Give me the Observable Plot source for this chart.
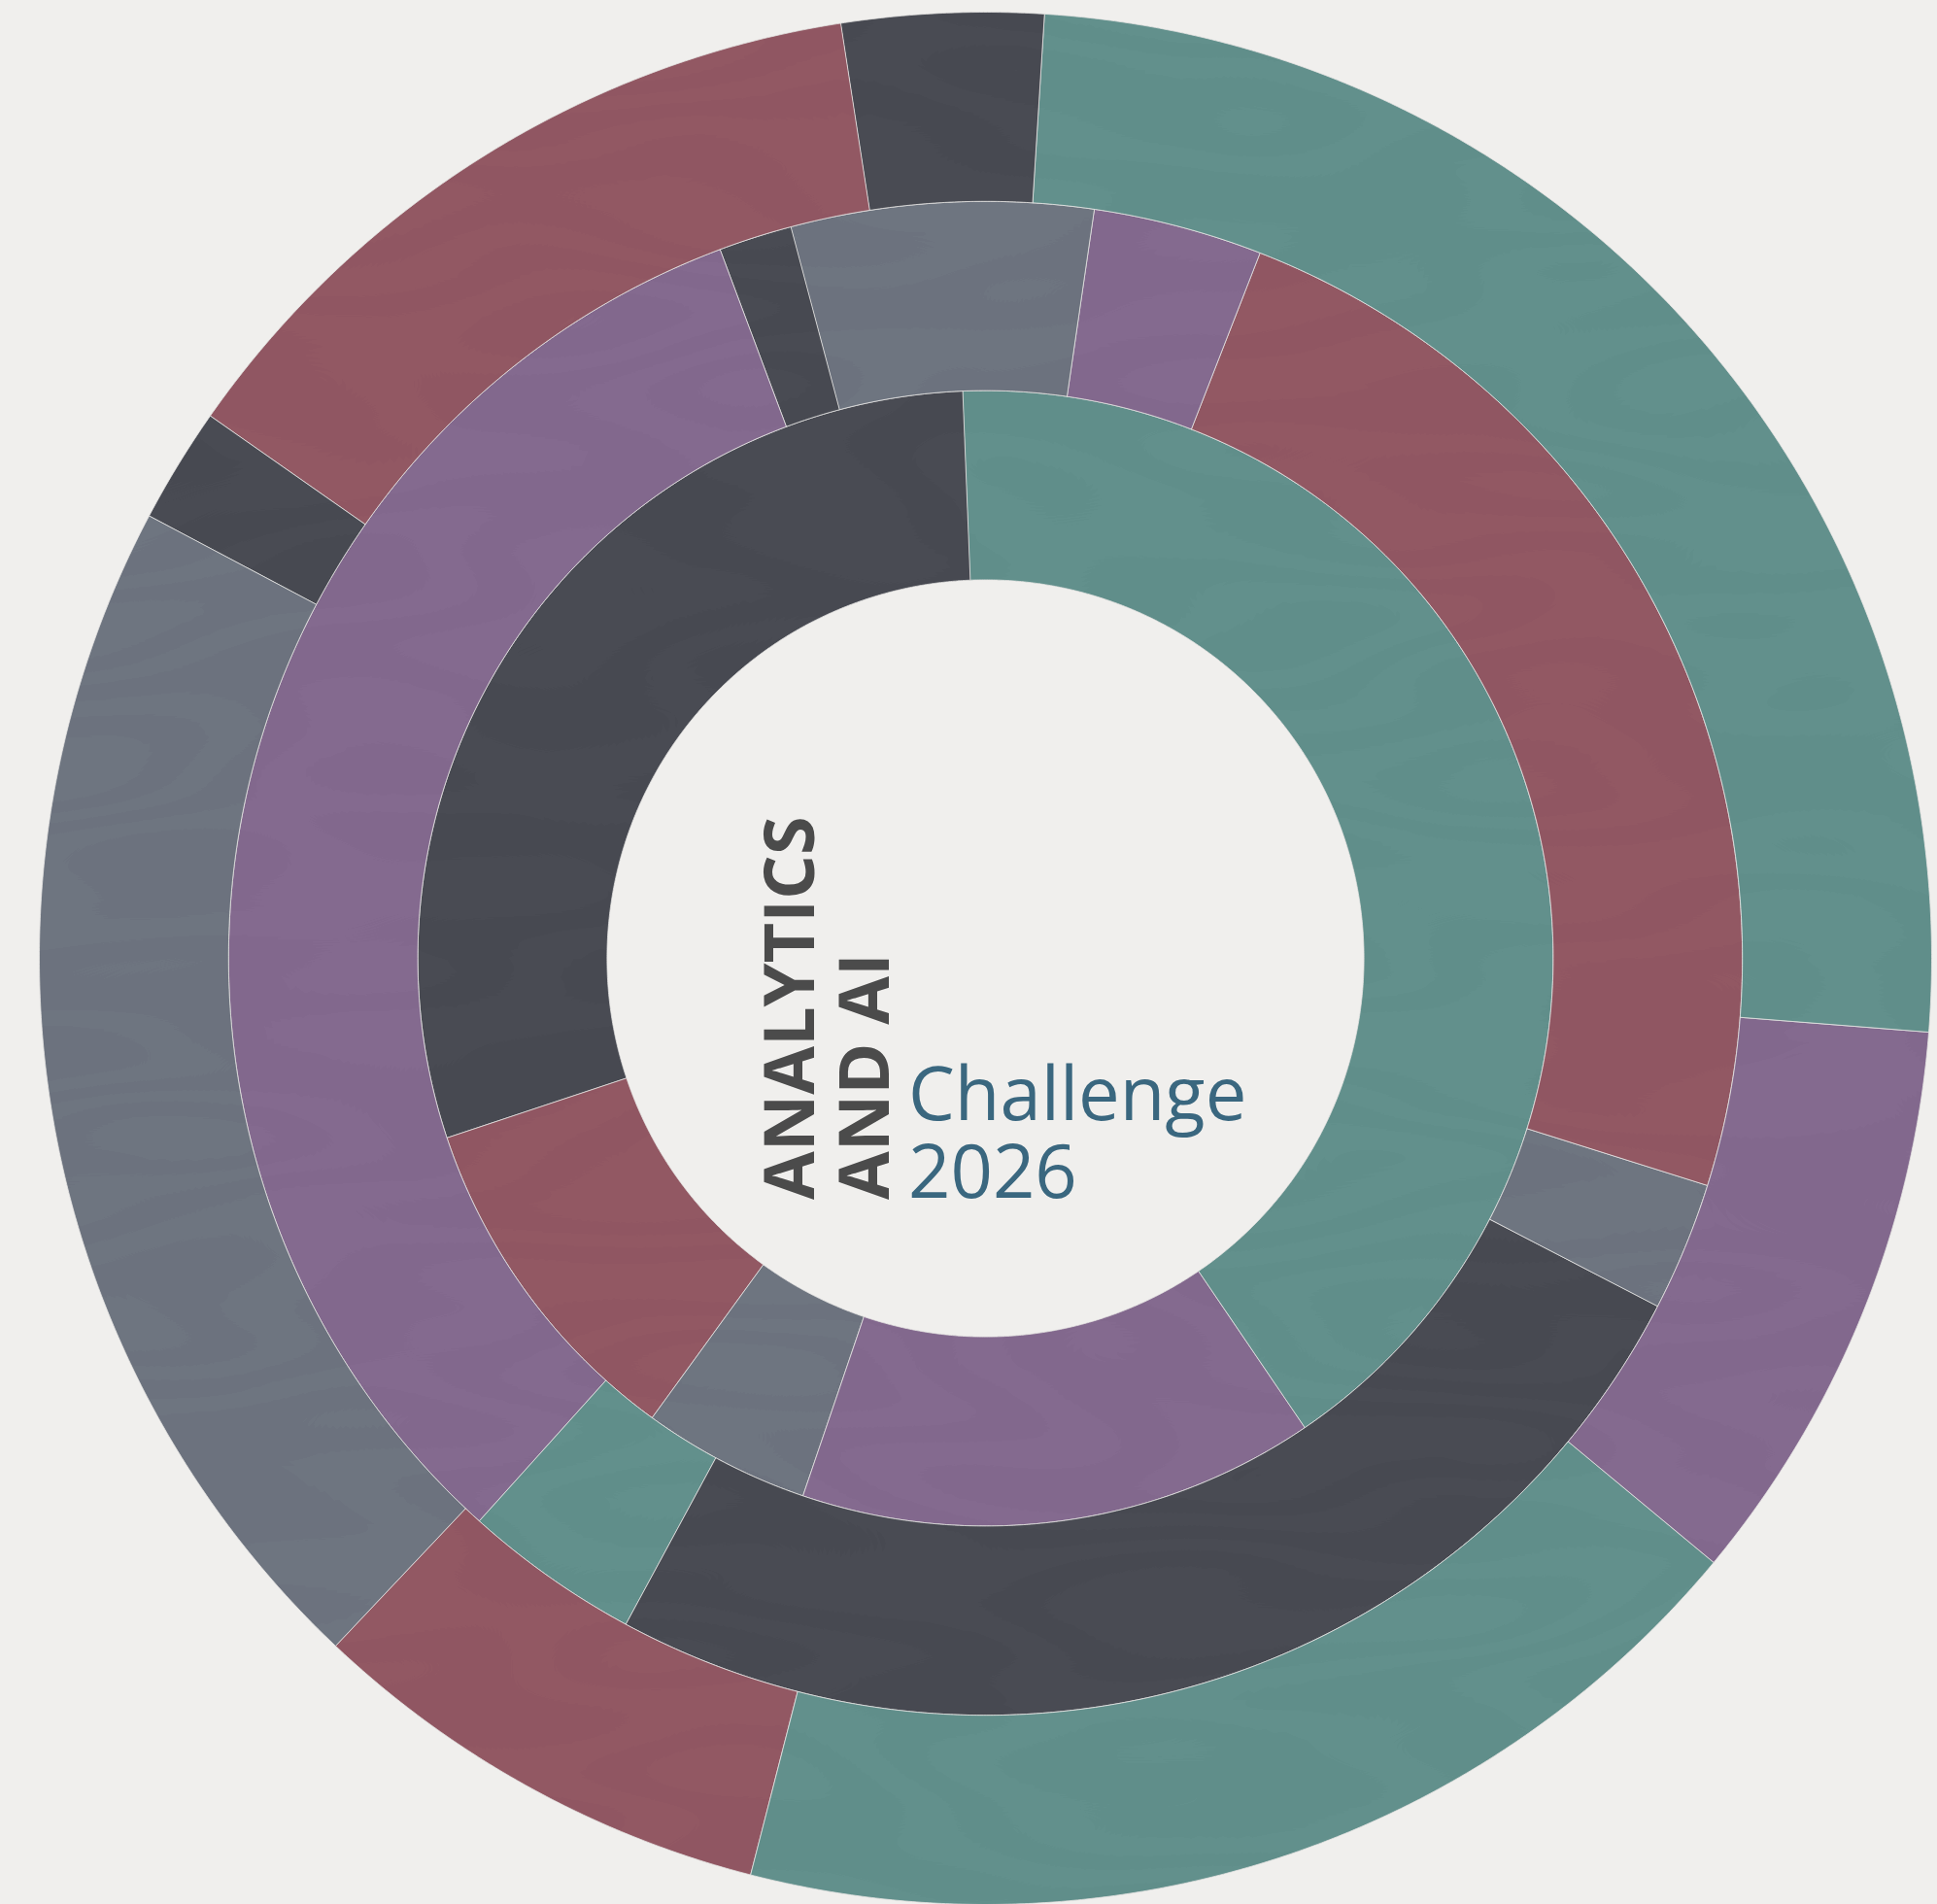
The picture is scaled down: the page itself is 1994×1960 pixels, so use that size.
<!DOCTYPE html>
<html><head><meta charset="utf-8">
<script src="https://cdn.jsdelivr.net/npm/d3@7"></script>
<script src="https://cdn.jsdelivr.net/npm/@observablehq/plot@0.6"></script>
<style>
html,body{margin:0;padding:0;background:#f0efed;}
#chart{width:1994px;height:1960px;position:relative;overflow:hidden;}
svg{display:block;}
</style></head><body><div id="chart"></div>
<script>
// categories and their colours
const categories = ["teal", "charcoal", "rose", "violet", "slate"];
const palette = ["#62908c", "#484b53", "#925964", "#846a8f", "#6e7580"];

// ring 1 (innermost): segments clockwise, values in degrees of arc
const ring1Cats = ["teal", "violet", "slate", "rose", "charcoal"];
const ring1Vals = [148.1, 53.0, 17.2, 35.6, 106.1];
const ring1Start = -2.3;

// ring 2
const ring2Cats = ["slate", "violet", "rose", "slate", "charcoal", "teal", "violet", "charcoal"];
const ring2Vals = [23.2, 13.0, 86.2, 9.9, 91.0, 13.6, 117.5, 5.6];
const ring2Start = -14.9;

// ring 3 (outermost)
const ring3Cats = ["charcoal", "teal", "violet", "teal", "rose", "slate", "charcoal", "rose"];
const ring3Vals = [12.4, 90.9, 35.2, 64.7, 29.0, 74.5, 7.1, 46.2];
const ring3Start = -8.8;

const ringLevels = [1, 2, 3];
const titleLines = ["ANALYTICS", "AND AI"];
const subtitleLines = ["Challenge", "2026"];

// build arc polygons in data space (radius in ring units, hole = 2)
const rings = [
  {cats: ring1Cats, vals: ring1Vals, start: ring1Start},
  {cats: ring2Cats, vals: ring2Vals, start: ring2Start},
  {cats: ring3Cats, vals: ring3Vals, start: ring3Start}
];
const pts = [];
rings.forEach((ring, ri) => {
  const level = ringLevels[ri];
  const r0 = level + 1, r1 = level + 2;
  const total = d3.sum(ring.vals);
  let a = ring.start;
  ring.vals.forEach((v, i) => {
    const a0 = a, a1 = a + v / total * 360;
    a = a1;
    const id = `r${level}-${i}`;
    const n = Math.max(2, Math.ceil((a1 - a0) / 0.25));
    const toRad = d => d * Math.PI / 180;
    for (let k = 0; k <= n; k++) {
      const t = toRad(a0 + (a1 - a0) * k / n);
      pts.push({id, cat: ring.cats[i], x: r1 * Math.sin(t), y: r1 * Math.cos(t)});
    }
    for (let k = n; k >= 0; k--) {
      const t = toRad(a0 + (a1 - a0) * k / n);
      pts.push({id, cat: ring.cats[i], x: r0 * Math.sin(t), y: r0 * Math.cos(t)});
    }
  });
});

const chart = Plot.plot({
  width: 1994,
  height: 1960,
  marginLeft: 40,
  marginRight: 6,
  marginTop: 12,
  marginBottom: 0,
  style: {background: "#f0efed", overflow: "visible"},
  x: {domain: [-5, 5], axis: null},
  y: {domain: [-5, 5], axis: null},
  color: {domain: categories, range: palette},
  marks: [
    Plot.line(pts, {x: "x", y: "y", z: "id", fill: "cat", stroke: "#e6e5e3", strokeWidth: 0.8, curve: "linear-closed"})
  ]
});
document.getElementById("chart").appendChild(chart);

const svg = d3.select(chart);
// subtle wood-grain texture
const defs = svg.insert("defs", ":first-child");
const f = defs.append("filter").attr("id", "grain")
  .attr("filterUnits", "userSpaceOnUse").attr("x", 0).attr("y", 0).attr("width", 1994).attr("height", 1960);
f.append("feTurbulence").attr("type", "fractalNoise").attr("baseFrequency", "0.002 0.007").attr("numOctaves", 2).attr("seed", 11).attr("result", "noise");
f.append("feColorMatrix").attr("in", "noise").attr("type", "matrix")
  .attr("values", "0 0 0 0 0  0 0 0 0 0  0 0 0 0 0  1 0 0 0 0").attr("result", "na");
const ct = f.append("feComponentTransfer").attr("in", "na").attr("result", "bands");
ct.append("feFuncA").attr("type", "discrete").attr("tableValues", "0 0.03 0 0.03 0 0.03 0 0.03 0 0.03 0");
f.append("feComposite").attr("in", "bands").attr("in2", "SourceGraphic").attr("operator", "in").attr("result", "tex");
const m = f.append("feMerge");
m.append("feMergeNode").attr("in", "SourceGraphic");
m.append("feMergeNode").attr("in", "tex");
svg.selectAll("g[aria-label='line']").attr("filter", "url(#grain)");

// centre titles
const tg = svg.append("g").attr("font-family", "'Open Sans', 'Noto Sans', sans-serif").attr("text-anchor", "start");
titleLines.forEach((t, i) => {
  tg.append("text").attr("transform", `translate(${838 + i * 77},1235) rotate(-90)`)
    .attr("text-anchor", "start")
    .attr("font-size", 72).attr("font-weight", 700).attr("fill", "#4b4b4b").text(t);
});
subtitleLines.forEach((t, i) => {
  tg.append("text").attr("x", 935).attr("y", 1153 + i * 80)
    .attr("text-anchor", "start")
    .attr("font-size", 76).attr("fill", "#3a677f").text(t);
});
</script></body></html>
